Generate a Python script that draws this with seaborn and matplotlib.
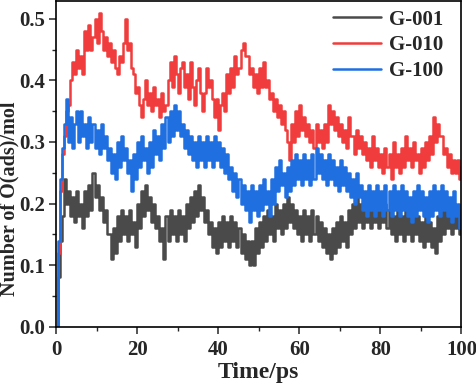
import numpy as np
import pandas as pd
import matplotlib
matplotlib.use("Agg")
import matplotlib.pyplot as plt
import seaborn as sns
from matplotlib.ticker import MultipleLocator, FormatStrFormatter

time_ps = np.arange(0, 100.5, 0.5)

g010 = [
    0.00, 0.12, 0.22, 0.28, 0.31, 0.35, 0.36, 0.40, 0.43, 0.41,
    0.45, 0.42, 0.44, 0.41, 0.48, 0.45, 0.49, 0.45, 0.47, 0.50,
    0.46, 0.51, 0.48, 0.45, 0.47, 0.44, 0.46, 0.43, 0.45, 0.42,
    0.41, 0.44, 0.43, 0.46, 0.50, 0.45, 0.46, 0.42, 0.41, 0.38,
    0.39, 0.36, 0.34, 0.37, 0.40, 0.36, 0.38, 0.35, 0.39, 0.36,
    0.37, 0.34, 0.38, 0.35, 0.36, 0.40, 0.43, 0.39, 0.44, 0.41,
    0.38, 0.42, 0.43, 0.39, 0.41, 0.37, 0.43, 0.39, 0.36, 0.40,
    0.42, 0.38, 0.35, 0.38, 0.42, 0.39, 0.40, 0.37, 0.34, 0.37,
    0.32, 0.36, 0.38, 0.35, 0.41, 0.38, 0.42, 0.39, 0.44, 0.41,
    0.42, 0.45, 0.46, 0.44, 0.44, 0.41, 0.42, 0.39, 0.41, 0.38,
    0.42, 0.39, 0.43, 0.39, 0.40, 0.37, 0.38, 0.35, 0.37, 0.34,
    0.36, 0.33, 0.35, 0.32, 0.30, 0.27, 0.33, 0.30, 0.35, 0.31,
    0.36, 0.32, 0.34, 0.31, 0.33, 0.30, 0.32, 0.29, 0.33, 0.30,
    0.32, 0.29, 0.33, 0.30, 0.36, 0.33, 0.35, 0.32, 0.34, 0.31,
    0.33, 0.30, 0.32, 0.29, 0.34, 0.31, 0.31, 0.28, 0.32, 0.29,
    0.31, 0.28, 0.30, 0.27, 0.29, 0.26, 0.31, 0.27, 0.29, 0.26,
    0.28, 0.25, 0.29, 0.26, 0.28, 0.24, 0.30, 0.26, 0.28, 0.25,
    0.29, 0.26, 0.31, 0.27, 0.29, 0.26, 0.30, 0.27, 0.28, 0.25,
    0.29, 0.26, 0.30, 0.27, 0.31, 0.28, 0.34, 0.30, 0.33, 0.31,
    0.31, 0.28, 0.29, 0.26, 0.28, 0.25, 0.27, 0.25, 0.27, 0.24,
    0.26,
]

g100 = [
    0.00, 0.14, 0.24, 0.29, 0.33, 0.37, 0.30, 0.34, 0.29, 0.33,
    0.35, 0.30, 0.35, 0.31, 0.33, 0.29, 0.34, 0.30, 0.33, 0.29,
    0.32, 0.28, 0.33, 0.29, 0.31, 0.27, 0.29, 0.25, 0.28, 0.24,
    0.30, 0.26, 0.31, 0.27, 0.29, 0.25, 0.27, 0.22, 0.28, 0.24,
    0.30, 0.26, 0.31, 0.27, 0.29, 0.25, 0.30, 0.26, 0.32, 0.28,
    0.31, 0.27, 0.33, 0.29, 0.34, 0.30, 0.35, 0.31, 0.36, 0.32,
    0.35, 0.31, 0.33, 0.29, 0.32, 0.28, 0.31, 0.27, 0.30, 0.26,
    0.31, 0.27, 0.30, 0.26, 0.31, 0.27, 0.30, 0.26, 0.31, 0.27,
    0.30, 0.26, 0.29, 0.25, 0.28, 0.24, 0.26, 0.22, 0.25, 0.21,
    0.24, 0.20, 0.23, 0.19, 0.22, 0.17, 0.23, 0.19, 0.22, 0.18,
    0.23, 0.19, 0.24, 0.20, 0.22, 0.18, 0.24, 0.20, 0.26, 0.22,
    0.27, 0.23, 0.25, 0.21, 0.26, 0.22, 0.27, 0.23, 0.28, 0.24,
    0.27, 0.23, 0.28, 0.24, 0.27, 0.23, 0.28, 0.24, 0.29, 0.25,
    0.28, 0.24, 0.27, 0.23, 0.28, 0.24, 0.27, 0.23, 0.26, 0.22,
    0.27, 0.23, 0.26, 0.22, 0.25, 0.21, 0.24, 0.20, 0.25, 0.21,
    0.23, 0.19, 0.22, 0.18, 0.23, 0.19, 0.22, 0.18, 0.23, 0.19,
    0.22, 0.18, 0.23, 0.19, 0.22, 0.18, 0.23, 0.19, 0.22, 0.18,
    0.23, 0.19, 0.22, 0.18, 0.21, 0.17, 0.22, 0.18, 0.23, 0.19,
    0.22, 0.18, 0.21, 0.17, 0.22, 0.18, 0.23, 0.19, 0.22, 0.18,
    0.23, 0.19, 0.22, 0.18, 0.21, 0.17, 0.22, 0.18, 0.20, 0.16,
    0.18,
]

g001 = [
    0.00, 0.08, 0.14, 0.18, 0.24, 0.20, 0.22, 0.18, 0.21, 0.17,
    0.22, 0.18, 0.20, 0.16, 0.22, 0.18, 0.23, 0.19, 0.25, 0.21,
    0.23, 0.19, 0.21, 0.17, 0.19, 0.15, 0.15, 0.11, 0.16, 0.12,
    0.18, 0.14, 0.19, 0.15, 0.18, 0.14, 0.19, 0.15, 0.17, 0.13,
    0.20, 0.16, 0.22, 0.18, 0.23, 0.19, 0.21, 0.17, 0.20, 0.16,
    0.18, 0.14, 0.16, 0.11, 0.18, 0.14, 0.19, 0.15, 0.18, 0.14,
    0.19, 0.15, 0.18, 0.14, 0.20, 0.16, 0.21, 0.17, 0.22, 0.18,
    0.23, 0.19, 0.21, 0.17, 0.19, 0.15, 0.17, 0.13, 0.16, 0.12,
    0.17, 0.13, 0.18, 0.14, 0.17, 0.13, 0.18, 0.14, 0.17, 0.13,
    0.16, 0.12, 0.15, 0.11, 0.14, 0.10, 0.14, 0.10, 0.16, 0.12,
    0.17, 0.13, 0.18, 0.14, 0.19, 0.15, 0.18, 0.14, 0.20, 0.16,
    0.19, 0.15, 0.20, 0.16, 0.21, 0.17, 0.20, 0.16, 0.19, 0.15,
    0.18, 0.14, 0.19, 0.15, 0.18, 0.14, 0.19, 0.15, 0.18, 0.14,
    0.17, 0.13, 0.16, 0.12, 0.15, 0.11, 0.16, 0.12, 0.17, 0.13,
    0.18, 0.14, 0.17, 0.13, 0.19, 0.15, 0.20, 0.16, 0.21, 0.17,
    0.20, 0.16, 0.21, 0.17, 0.20, 0.16, 0.21, 0.17, 0.20, 0.16,
    0.21, 0.17, 0.20, 0.16, 0.19, 0.15, 0.18, 0.14, 0.19, 0.15,
    0.18, 0.14, 0.19, 0.15, 0.18, 0.14, 0.19, 0.15, 0.18, 0.14,
    0.17, 0.13, 0.18, 0.14, 0.17, 0.13, 0.16, 0.12, 0.18, 0.14,
    0.19, 0.15, 0.20, 0.16, 0.19, 0.15, 0.20, 0.16, 0.19, 0.15,
    0.18,
]

labels = ["G-001", "G-010", "G-100"]
colors = ["#4a4a4a", "#f03c3c", "#1f6fe0"]

df = pd.concat([
    pd.DataFrame({"time": time_ps, "value": vals, "sample": name})
    for name, vals in zip(labels, [g001, g010, g100])
])

sns.set_style("ticks")
plt.rcParams["font.family"] = ["Liberation Serif", "DejaVu Serif"]
plt.rcParams["font.weight"] = "bold"

fig = plt.figure(figsize=(4.77, 3.85), dpi=100)
ax = fig.add_axes([0.1174, 0.1514, 0.8501, 0.846])

sns.lineplot(data=df, x="time", y="value", hue="sample", hue_order=labels,
             palette=colors, estimator=None, linewidth=1.8,
             drawstyle="steps-post", ax=ax)

ax.set_xlim(0, 100)
ax.set_ylim(0, 0.529)
ax.xaxis.set_major_locator(MultipleLocator(20))
ax.xaxis.set_minor_locator(MultipleLocator(10))
ax.yaxis.set_major_locator(MultipleLocator(0.1))
ax.yaxis.set_minor_locator(MultipleLocator(0.05))
ax.yaxis.set_major_formatter(FormatStrFormatter("%.1f"))

ax.tick_params(which="major", direction="out", length=5, width=1.1,
               labelsize=15, pad=3, top=False, right=False)
ax.tick_params(axis="x", which="major", pad=4.5)
ax.tick_params(which="minor", direction="out", length=3, width=1.0,
               top=False, right=False)
for lab in ax.get_xticklabels() + ax.get_yticklabels():
    lab.set_fontweight("bold")

for sp in ax.spines.values():
    sp.set_visible(True)
    sp.set_linewidth(1.2)
    sp.set_color("black")

ax.set_xlabel("Time/ps", fontsize=17, fontweight="bold", labelpad=1.5)
ax.set_ylabel("Number of O(ads)/mol", fontsize=14.5, fontweight="bold")
ax.yaxis.set_label_coords(-0.091, 0.394)

leg = ax.legend(loc="upper right", bbox_to_anchor=(0.985, 1.012),
                frameon=False, handlelength=2.3, handletextpad=0.35,
                labelspacing=0.28, borderaxespad=0.2,
                prop={"weight": "bold", "size": 15})
for line in leg.get_lines():
    line.set_linewidth(1.8)

fig.savefig("out.png", dpi=100)
